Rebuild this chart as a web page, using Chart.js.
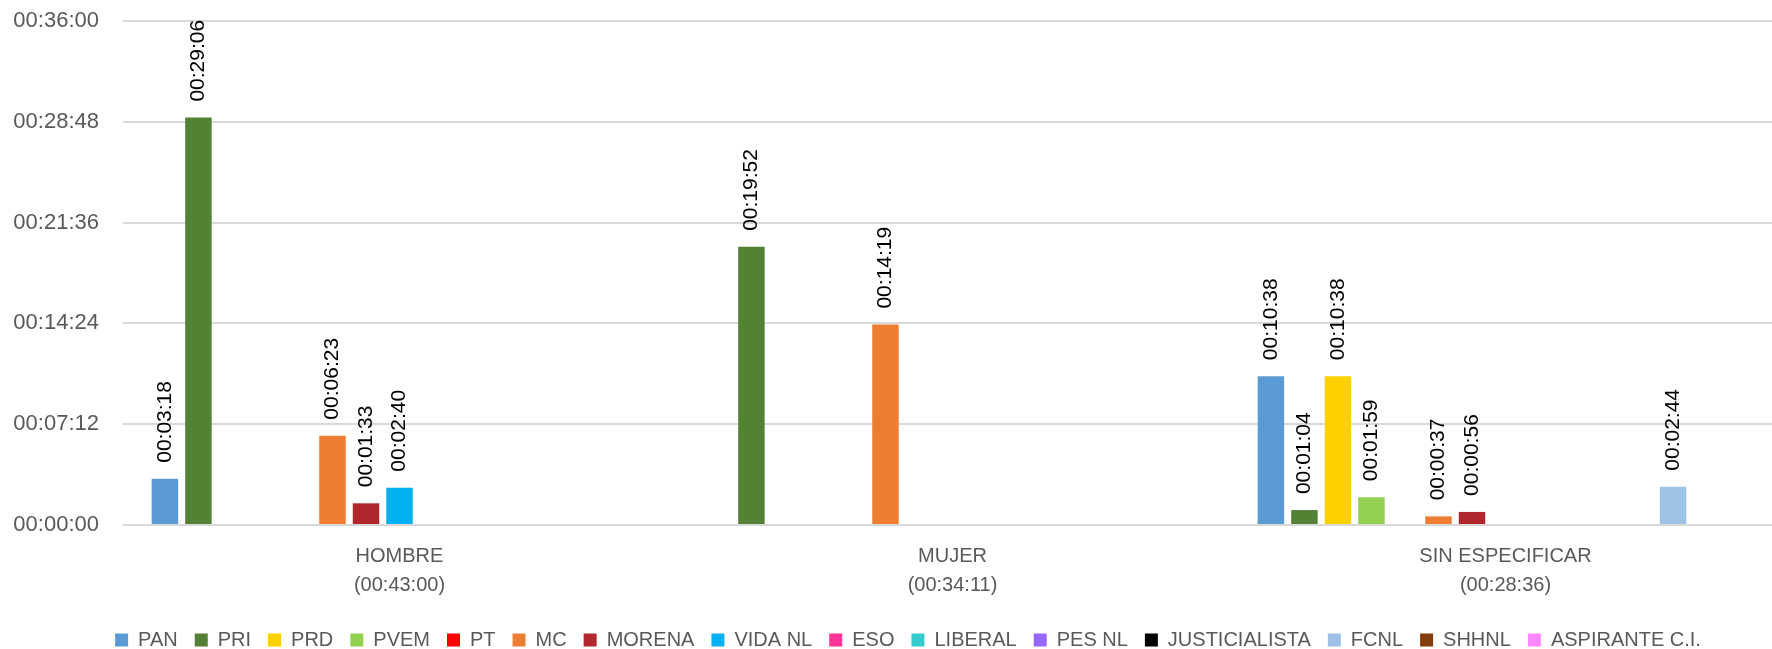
<!DOCTYPE html>
<html>
<head>
<meta charset="utf-8">
<script src="https://cdn.jsdelivr.net/npm/chart.js@4/dist/chart.umd.min.js"></script>
<style>
  html, body { margin: 0; padding: 0; background: #fff; overflow: hidden; }
  #wrap { width: 1782px; height: 649px; }
</style>
</head>
<body>
<div id="wrap"><canvas id="chart" width="1782" height="649"></canvas></div>
<script>
// categories (sexo) and party series, values in seconds
const categories = ['HOMBRE', 'MUJER', 'SIN ESPECIFICAR'];
const parties = ['PAN', 'PRI', 'PRD', 'PVEM', 'PT', 'MC', 'MORENA', 'VIDA NL', 'ESO', 'LIBERAL', 'PES NL', 'JUSTICIALISTA', 'FCNL', 'SHHNL', 'ASPIRANTE C.I.'];
const partyColors = ['#5B9BD5', '#548235', '#FFD000', '#92D050', '#FF0000', '#ED7D31', '#B2272D', '#00B0F0', '#FF3399', '#33CCCC', '#9966FF', '#000000', '#9DC3E6', '#843C0C', '#FF88FF'];

const pan = [198, null, 638];
const pri = [1746, 1192, 64];
const prd = [null, null, 638];
const pvem = [null, null, 119];
const pt = [null, null, null];
const mc = [383, 859, 37];
const morena = [93, null, 56];
const vidaNl = [160, null, null];
const eso = [null, null, null];
const liberal = [null, null, null];
const pesNl = [null, null, null];
const justicialista = [null, null, null];
const fcnl = [null, null, 164];
const shhnl = [null, null, null];
const aspirante = [null, null, null];

const seriesValues = [pan, pri, prd, pvem, pt, mc, morena, vidaNl, eso, liberal, pesNl, justicialista, fcnl, shhnl, aspirante];
const yTicks = [0, 432, 864, 1296, 1728, 2160];

function fmt(sec) {
    const h = Math.floor(sec / 3600);
    const m = Math.floor((sec % 3600) / 60);
    const s = sec % 60;
    return [h, m, s].map(n => String(n).padStart(2, '0')).join(':');
}

const totals = categories.map((c, i) => seriesValues.reduce((a, s) => a + (s[i] || 0), 0));
const labels = categories.map((c, i) => [c, '(' + fmt(totals[i]) + ')']);

Chart.defaults.font.family = "'Liberation Sans', Arial, sans-serif";

// rotated value labels above each bar
const barLabels = {
    id: 'barLabels',
    afterLayout(chart) {
        // centre the legend a bit to the right, like the original
        chart.legend.left = 34;
    },
    afterDatasetsDraw(chart) {
        const ctx = chart.ctx;
        ctx.save();
        ctx.font = "21px 'Liberation Sans', Arial, sans-serif";
        ctx.fillStyle = '#000';
        ctx.textAlign = 'left';
        ctx.textBaseline = 'middle';
        chart.data.datasets.forEach((ds, di) => {
            const meta = chart.getDatasetMeta(di);
            meta.data.forEach((bar, i) => {
                const v = ds.data[i];
                if (v == null) return;
                ctx.save();
                ctx.translate(bar.x, bar.y - 16);
                ctx.rotate(-Math.PI / 2);
                ctx.fillText(fmt(v), 0, 0);
                ctx.restore();
            });
        });
        ctx.restore();
    }
};

const ctx = document.getElementById('chart').getContext('2d');
const chart = new Chart(ctx, {
    type: 'bar',
    data: {
        labels: labels,
        datasets: parties.map((p, i) => ({
            label: p,
            data: seriesValues[i],
            backgroundColor: partyColors[i],
            borderWidth: 0,
            categoryPercentage: 0.909,
            barPercentage: 0.79
        }))
    },
    options: {
        responsive: false,
        animation: false,
        layout: { padding: { top: 21, left: 0, right: 0, bottom: -11 } },
        plugins: {
            tooltip: { enabled: false },
            legend: {
                position: 'bottom',
                labels: {
                    boxWidth: 13,
                    boxHeight: 13,
                    padding: 17,
                    color: '#595959',
                    font: { size: 20 }
                }
            }
        },
        scales: {
            x: {
                grid: { display: false, drawTicks: false },
                border: { display: false },
                ticks: {
                    color: '#595959',
                    font: { size: 20, lineHeight: 1.45 },
                    padding: 17,
                    maxRotation: 0,
                    autoSkip: false
                },
                afterFit(scale) { scale.height = 88; }
            },
            y: {
                min: 0,
                max: 2160,
                afterBuildTicks(scale) { scale.ticks = yTicks.map(v => ({ value: v })); },
                grid: { color: '#d9d9d9', lineWidth: 2, drawTicks: false },
                border: { display: false },
                ticks: {
                    color: '#595959',
                    font: { size: 22 },
                    padding: 24,
                    callback: v => fmt(v)
                },
                afterFit(scale) {
                    scale.width = 123;
                    scale.paddingTop = 10;
                    scale.paddingBottom = 10;
                }
            }
        }
    },
    plugins: [barLabels]
});
</script>
</body>
</html>
